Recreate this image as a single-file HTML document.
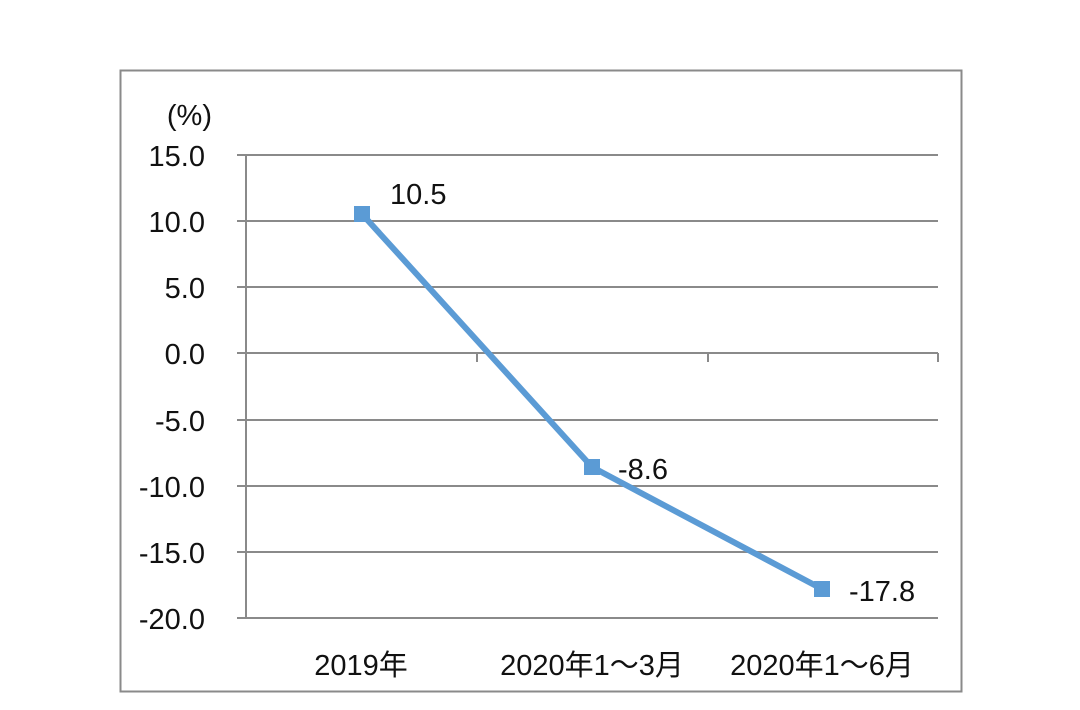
<!DOCTYPE html>
<html><head><meta charset="utf-8"><style>
html,body{margin:0;padding:0;background:#fff;}
svg{display:block;}
text{font-family:"Liberation Sans","Noto Sans CJK SC",sans-serif;fill:#111;font-size:29px;}
</style></head><body>
<svg width="1080" height="710" viewBox="0 0 1080 710">
<rect x="120.5" y="70.5" width="841" height="621" fill="none" stroke="#8a8a8a" stroke-width="2"/>
<g stroke="#8a8a8a" stroke-width="2">
<line x1="237" y1="155" x2="938" y2="155"/>
<line x1="237" y1="221" x2="938" y2="221"/>
<line x1="237" y1="287" x2="938" y2="287"/>
<line x1="237" y1="420" x2="938" y2="420"/>
<line x1="237" y1="486" x2="938" y2="486"/>
<line x1="237" y1="552" x2="938" y2="552"/>
<line x1="237" y1="618" x2="938" y2="618"/>
<line x1="237" y1="353" x2="938" y2="353"/>
<line x1="246" y1="155" x2="246" y2="618"/>
<line x1="477" y1="353" x2="477" y2="362"/>
<line x1="708" y1="353" x2="708" y2="362"/>
<line x1="938" y1="353" x2="938" y2="362"/>
</g>
<g text-anchor="end">
<text x="212" y="125" font-size="26">(%)</text>
<text x="205" y="166">15.0</text>
<text x="205" y="232">10.0</text>
<text x="205" y="298">5.0</text>
<text x="205" y="364">0.0</text>
<text x="205" y="431">-5.0</text>
<text x="205" y="497">-10.0</text>
<text x="205" y="563">-15.0</text>
<text x="205" y="629">-20.0</text>
</g>
<polyline points="362,214 592,467 822,589" fill="none" stroke="#5b9bd5" stroke-width="6"/>
<g fill="#5b9bd5">
<rect x="354" y="206" width="16" height="16"/>
<rect x="584" y="459" width="16" height="16"/>
<rect x="814" y="581" width="16" height="16"/>
</g>
<text x="390" y="204">10.5</text>
<text x="618" y="479">-8.6</text>
<text x="849" y="601">-17.8</text>
<g text-anchor="middle">
<text x="361" y="675">2019年</text>
<text x="592" y="675">2020年1～3月</text>
<text x="822" y="675">2020年1～6月</text>
</g>
</svg>
</body></html>
